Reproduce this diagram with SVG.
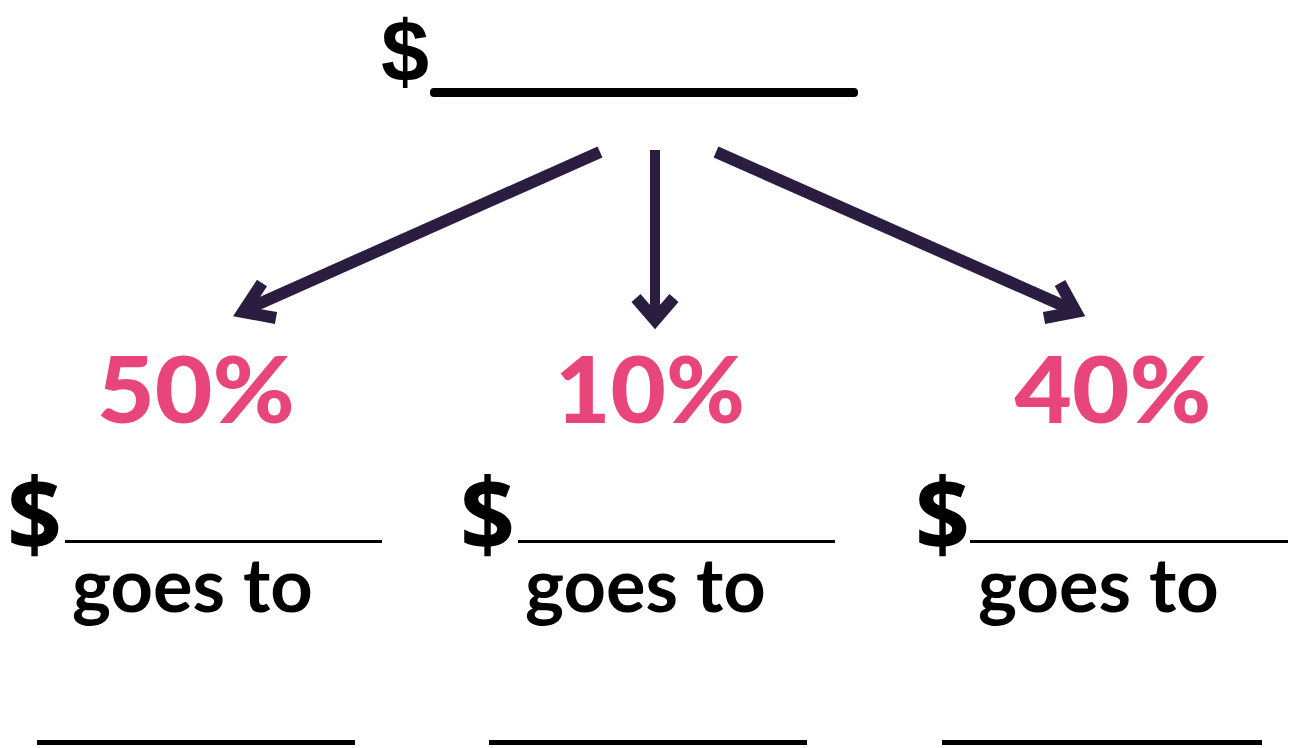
<svg xmlns="http://www.w3.org/2000/svg" width="1296" height="748" viewBox="0 0 1296 748">
<style>
.top{font-family:"Liberation Sans",Arial,sans-serif;font-weight:700;font-size:88px;fill:#000}
.pct{font-family:Lato,"Noto Sans",sans-serif;font-weight:900;font-size:92px;fill:#e8457a}
.dol{font-family:"Open Sans","Liberation Sans",sans-serif;font-weight:700;font-size:100px;fill:#000}
.goes{font-family:Lato,"Noto Sans",sans-serif;font-weight:700;font-size:74px;fill:#000}
.blank{stroke:#000;stroke-width:3}
.ans{stroke:#000;stroke-width:5}
.arr{stroke:#2b1d3f;stroke-width:12;fill:none;stroke-linecap:butt;stroke-linejoin:miter}
</style>
<rect width="1296" height="748" fill="#fff"/>
<g id="total">
<text class="top" x="381" y="82" textLength="48" lengthAdjust="spacingAndGlyphs">$</text>
<rect x="430" y="88" width="428" height="9" rx="4" fill="#000"/>
</g>
<g id="connectors">
<line class="arr" x1="600" y1="152" x2="245" y2="310"/>
<polyline class="arr" points="262,283 243,312 276,318"/>
<line class="arr" x1="655" y1="150" x2="655" y2="318" style="stroke-width:10"/>
<polyline class="arr" points="636,298 655,320 674,298"/>
<line class="arr" x1="716" y1="152" x2="1073" y2="310"/>
<polyline class="arr" points="1044,318 1076,312 1060,283"/>
</g>
<g id="n50">
<text class="pct" x="196" y="423" text-anchor="middle" textLength="198" lengthAdjust="spacingAndGlyphs">50%</text>
<text class="dol" x="7" y="551" textLength="55" lengthAdjust="spacingAndGlyphs">$</text>
<line class="blank" x1="65" y1="541.5" x2="382" y2="541.5"/>
<text class="goes" x="72" y="612">goes to</text>
<line class="ans" x1="37" y1="742.5" x2="355" y2="742.5"/>
</g>
<g id="n10">
<text class="pct" x="650" y="423" text-anchor="middle" textLength="190" lengthAdjust="spacingAndGlyphs">10%</text>
<text class="dol" x="460" y="551" textLength="55" lengthAdjust="spacingAndGlyphs">$</text>
<line class="blank" x1="518" y1="541.5" x2="835" y2="541.5"/>
<text class="goes" x="525" y="612">goes to</text>
<line class="ans" x1="489" y1="742.5" x2="807" y2="742.5"/>
</g>
<g id="n40">
<text class="pct" x="1113" y="423" text-anchor="middle" textLength="197" lengthAdjust="spacingAndGlyphs">40%</text>
<text class="dol" x="915" y="551" textLength="55" lengthAdjust="spacingAndGlyphs">$</text>
<line class="blank" x1="970" y1="541.5" x2="1288" y2="541.5"/>
<text class="goes" x="978" y="612">goes to</text>
<line class="ans" x1="942" y1="742.5" x2="1262" y2="742.5"/>
</g>
</svg>
